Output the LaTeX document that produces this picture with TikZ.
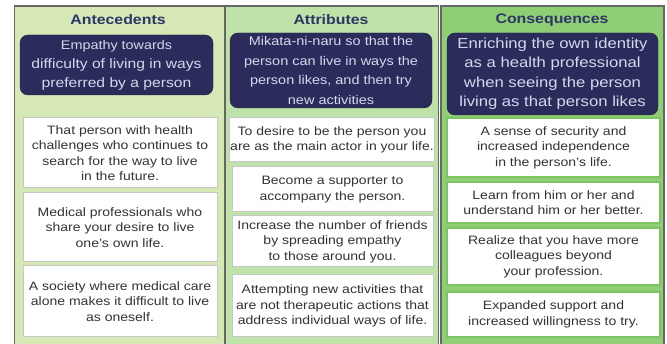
\documentclass[tikz,border=0pt]{standalone}
\usepackage{fontspec}
\setmainfont{Liberation Sans}[FakeStretch=1.15]
\definecolor{cone}{HTML}{D5E8B6}
\definecolor{ctwo}{HTML}{BEE2A7}
\definecolor{cthree}{HTML}{90CE75}
\definecolor{navy}{HTML}{2C2C5C}
\definecolor{ttl}{HTML}{2E3568}
\definecolor{dtxt}{HTML}{D4D8EC}
\definecolor{wtxt}{HTML}{333333}
\definecolor{colb}{HTML}{666666}
\definecolor{gbord}{HTML}{7DC463}
\tikzset{
  colbox/.style={draw=colb, line width=1.6pt, inner sep=0pt},
  ttlnode/.style={font=\bfseries\fontsize{13.8}{15}\selectfont, text=ttl, inner sep=0pt},
  dbox/.style={fill=navy, draw=navy!70!black, rounded corners=8pt, text=dtxt, align=center, inner sep=1pt,
    font=\fontsize{13.6}{19}\selectfont},
  wbox/.style={fill=white, draw=black!22, line width=1pt, text=wtxt, align=center, inner sep=1pt,
    font=\fontsize{12.2}{15.5}\selectfont},
  gbox/.style={wbox, draw=gbord, line width=1.4pt},
}
\newcommand\bx[7]{\node[#1, minimum width=#4-#2, minimum height=#5-#3] (#6) at ({(#2+#4)/2},{(#3+#5)/2}) {#7};}
\begin{document}
\begin{tikzpicture}[x=1pt,y=-1pt]
\useasboundingbox (0,0) rectangle (667,344);
\clip (0,0) rectangle (667,344);
% columns
\node[colbox, fill=cone, minimum width=210, minimum height=345, anchor=north west] (col1) at (13.5,5) {};
\node[colbox, fill=ctwo, minimum width=213, minimum height=345, anchor=north west] (col2) at (224.5,5) {};
\node[colbox, fill=cthree, minimum width=223, minimum height=345, anchor=north west] (col3) at (440,5) {};
% titles
\node[ttlnode] (t1) at (118,20) {Antecedents};
\node[ttlnode] (t2) at (331,20) {Attributes};
\node[ttlnode] (t3) at (552,20) {Consequences};
% dark boxes
\bx{dbox}{20}{35}{213}{95}{d1}{{\fontsize{12.5}{19}\selectfont Empathy towards}\\difficulty of living in ways\\preferred by a person}
\bx{dbox, font=\fontsize{12.6}{19.5}\selectfont}{230}{33}{432}{108}{d2}{Mikata-ni-naru so that the\\person can live in ways the\\person likes, and then try\\new activities}
\bx{dbox, font=\fontsize{14.5}{19.5}\selectfont}{447}{33}{658}{115}{d3}{Enriching the own identity\\as a health professional\\when seeing the person\\living as that person likes}
% column 1 boxes
\bx{wbox}{23}{118}{217}{188}{a1}{That person with health\\challenges who continues to\\search for the way to live\\in the future.}
\bx{wbox}{23}{193}{217}{262}{a2}{Medical professionals who\\share your desire to live\\one's own life.}
\bx{wbox}{23}{266}{217}{337}{a3}{A society where medical care\\alone makes it difficult to live\\as oneself.}
% column 2 boxes
\bx{wbox}{231}{118}{433}{162}{b1}{To desire to be the person you\\are as the main actor in your life.}
\bx{wbox}{232}{167}{433}{212}{b2}{Become a supporter to\\accompany the person.}
\bx{wbox}{232}{216}{433}{267}{b3}{Increase the number of friends\\by spreading empathy\\to those around you.}
\bx{wbox}{232}{275}{433}{337}{b4}{Attempting new activities that\\are not therapeutic actions that\\address individual ways of life.}
% column 3 boxes
\bx{gbox}{447}{118}{660}{177}{c1}{A sense of security and\\increased independence\\in the person's life.}
\bx{gbox}{447}{182}{660}{223}{c2}{Learn from him or her and\\understand him or her better.}
\bx{gbox}{447}{228}{660}{285}{c3}{Realize that you have more\\colleagues beyond\\your profession.}
\bx{gbox}{447}{292}{660}{337}{c4}{Expanded support and\\increased willingness to try.}
\end{tikzpicture}
\end{document}
